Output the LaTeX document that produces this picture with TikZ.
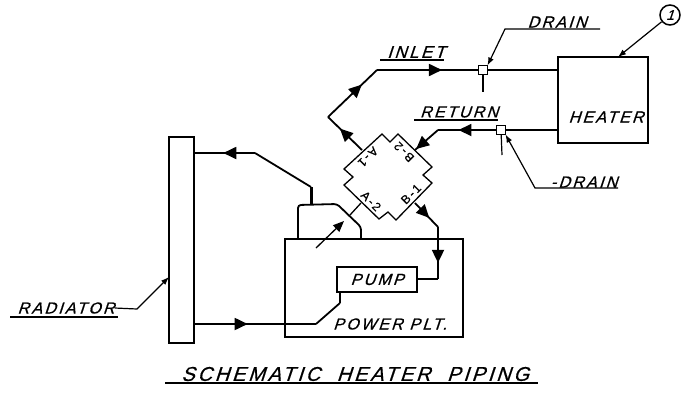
\documentclass[tikz,border=0pt]{standalone}
\usepackage{fontspec}
\usetikzlibrary{arrows.meta,decorations.markings}
\newfontfamily\lettering[LetterSpace=14,FakeSlant=0.33,FakeBold=0.6]{Liberation Sans}
\newfontfamily\portlettering[LetterSpace=16,FakeBold=0.6]{Liberation Sans}
\tikzset{
  pipe/.style={line width=1.8pt},
  thin line/.style={line width=1.3pt},
  leader/.style={line width=1.2pt},
  flow/.style={postaction={decorate},decoration={markings,
    mark=at position #1 with {\arrow{Triangle[length=13pt,width=12pt]}}}},
  unit/.style={draw,line width=1.5pt,outer sep=0pt,inner sep=0pt},
  valve/.style={draw,fill=white,line width=1.6pt,minimum size=9pt,inner sep=0pt,outer sep=0pt},
  caption/.style={font=\lettering\fontsize{16}{16}\selectfont,inner sep=0pt},
  port text/.style={font=\portlettering\fontsize{12}{12}\selectfont,inner sep=0pt},
}
\begin{document}
\begin{tikzpicture}[x=1pt,y=-1pt]
  \useasboundingbox (0,0) rectangle (686,392);
  \node [unit, minimum width=90pt, minimum height=86pt] (heater) at (603,100) {};
  \node [unit, minimum width=25pt, minimum height=206pt] (radiator) at (181.5,240) {};
  \node [unit, minimum width=178pt, minimum height=98pt] (plant) at (374,288) {};
  \node [unit, minimum width=80pt, minimum height=25pt, caption] (pump) at (377,279.5) {PUMP};
  \node [valve] (valve_in) at (483,70) {};
  \node [valve] (valve_out) at (501,130) {};
  \node [draw, circle, line width=1.5pt, minimum size=20pt, inner sep=0pt, font=\lettering\fontsize{14}{14}\selectfont] (ref_1) at (670,15) {1};
  \draw [thin line] (344,169) -- (382,134) -- (390,142) -- (398,134) -- (432,167) -- (423,175)
    -- (432,183) -- (396,220) -- (388,212) -- (379,219) -- (344,185) -- (353,177) -- cycle;
  \coordinate (port_a1) at (362,150);
  \coordinate (port_b2) at (415,150);
  \coordinate (port_a2) at (361,203);
  \coordinate (port_b1) at (415,203);
  \coordinate (in_1) at (328,117);
  \coordinate (in_2) at (377,70);
  \coordinate (ret_1) at (438,130);
  \coordinate (rad_1) at (255,153);
  \coordinate (rad_2) at (311,187);
  \coordinate (rad_3) at (311,204);
  \coordinate (pump_1) at (438,279);
  \coordinate (pump_2) at (438,227);
  \coordinate (low_1) at (340,292);
  \coordinate (low_2) at (340,303);
  \coordinate (low_3) at (316,324);
  \coordinate (case_1) at (298,238);
  \coordinate (case_2) at (337,204);
  \coordinate (case_3) at (361,227);
  \coordinate (case_4) at (361,238);
  \coordinate (case_link) at (350,215);
  \coordinate (case_tail) at (316,248);
  \coordinate (case_tip) at (344,221);
  \coordinate (stub_in) at (483,92);
  \coordinate (stub_out) at (502,155);
  \path [pipe]
    (port_a1) edge [flow=.65] (in_1)
    (in_1) edge [flow=.69] (in_2)
    (in_2) edge [flow=.64] (valve_in)
    (valve_in) edge [thin line] (heater.west |- valve_in)
    (heater.west |- valve_out) edge [thin line] (valve_out)
    (valve_out) edge [flow=.65] (ret_1)
    (ret_1) edge [flow=.95] (port_b2)
    (port_b1) edge [flow=.62] (pump_2)
    (pump_2) edge [flow=.69] (pump_1)
    (pump_1) edge [thin line] (pump.east |- pump_1)
    (low_1) edge [thin line] (low_2)
    (low_2) edge (low_3)
    (radiator.east |- low_3) edge [flow=.44] (low_3)
    (rad_1) edge [flow=.52] (radiator.east |- rad_1)
    (rad_1) edge (rad_2)
    (rad_2) edge [line width=3pt] (rad_3);
  \draw [pipe, rounded corners=3pt] (case_1) -- (298,205) -- (case_2) -- (case_3) -- (case_4);
  \draw [thin line] (port_a2) -- (case_link);
  \draw [thin line, -{Triangle[length=11pt,width=9pt]}] (case_tail) -- (case_tip);
  \draw [leader] (valve_in) -- (stub_in);
  \draw [leader] (valve_out) -- (stub_out);
  \node [valve] at (valve_in) {};
  \node [valve] at (valve_out) {};
  \node [caption, font=\lettering\fontsize{17}{17}\selectfont] (inlet) at (416,52) {INLET};
  \node [caption] (return) at (459,112) {RETURN};
  \node [caption] (drain_in) at (557,22) {DRAIN};
  \node [caption] (drain_out) at (584,182) {-DRAIN};
  \node [caption] (heater_text) at (606,117) {HEATER};
  \node [caption] (plant_text) at (390,324) {POWER PLT.};
  \node [caption] (radiator_text) at (66,308) {RADIATOR};
  \node [caption, font=\lettering\fontsize{20}{20}\selectfont] (title) at (355,374) {SCHEMATIC\ \ HEATER\ \ PIPING};
  \node [port text, rotate=225] (text_a1) at (368,157) {A-1};
  \node [port text, rotate=135] (text_b2) at (404,152) {B-2};
  \node [port text, rotate=-45] (text_a2) at (371,201) {A-2};
  \node [port text, rotate=45] (text_b1) at (411,194) {B-1};
  \draw [thin line] (380,60) -- (444,60);
  \draw [thin line] (414,120) -- (498,120);
  \draw [pipe] (165,383) -- (538,383);
  \coordinate (drain_1a) at (600,29);
  \coordinate (drain_1b) at (505,29);
  \coordinate (drain_2a) at (618,188);
  \coordinate (drain_2b) at (535,188);
  \coordinate (rad_text_a) at (10,317);
  \coordinate (rad_text_b) at (118,317);
  \coordinate (rad_lead) at (137,309);
  \draw [leader, -{Latex[length=8pt,width=6pt]}] (drain_1a) -- (drain_1b) -- (valve_in.north east);
  \draw [leader, -{Latex[length=8pt,width=6pt]}] (drain_2a) -- (drain_2b) -- (valve_out.south east);
  \draw [leader, -{Latex[length=8pt,width=6pt]}] (ref_1) -- (618,57);
  \draw [thin line] (rad_text_a) -- (rad_text_b);
  \draw [leader, -{Latex[length=8pt,width=6pt]}] (radiator_text.east) -- (rad_lead) -- (radiator.west |- 0,277);
\end{tikzpicture}
\end{document}
